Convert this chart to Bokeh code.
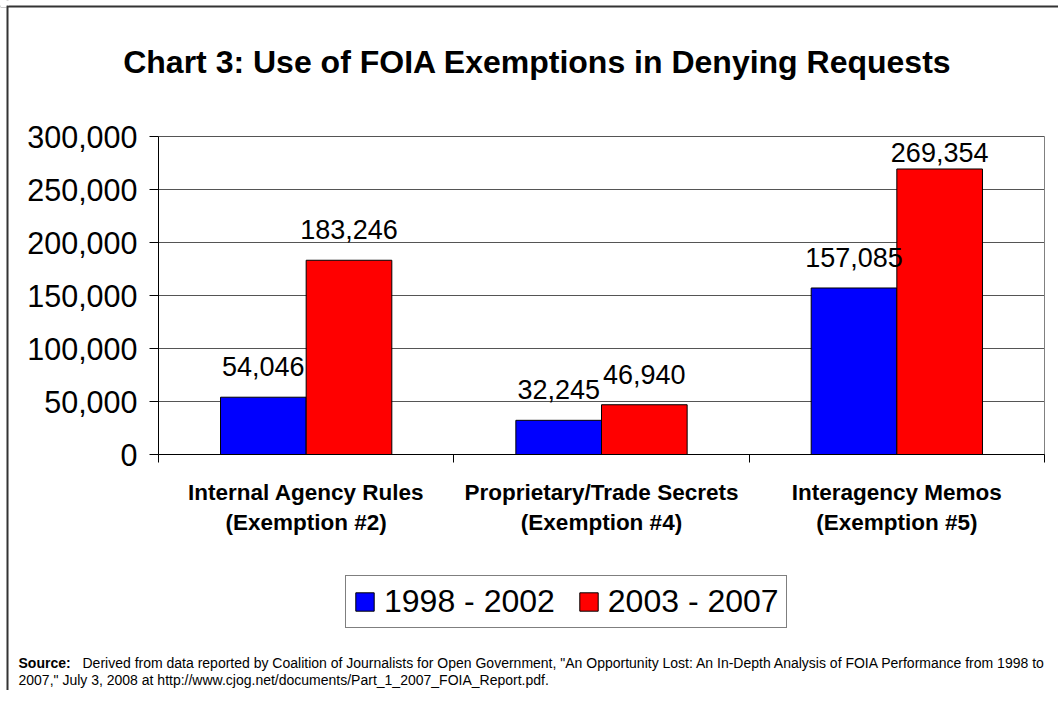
import numpy as np
from bokeh.plotting import figure
from bokeh.models import (Range1d, FixedTicker, NumeralTickFormatter, ColumnDataSource,
                          LabelSet, Label, Legend, LegendItem, LinearAxis, Span)
from bokeh.core.properties import value
from bokeh.embed import file_html
from bokeh.resources import INLINE

# ---------------- data ----------------
categories = ["Internal Agency Rules", "Proprietary/Trade Secrets", "Interagency Memos"]
exemptions = ["(Exemption #2)", "(Exemption #4)", "(Exemption #5)"]
series_names = ["1998 - 2002", "2003 - 2007"]
values_1998_2002 = [54046, 32245, 157085]
values_2003_2007 = [183246, 46940, 269354]
y_ticks = [0, 50000, 100000, 150000, 200000, 250000, 300000]
title_text = "Chart 3: Use of FOIA Exemptions in Denying Requests"
source_label = "Source:"
source_line1 = ('Derived from data reported by Coalition of Journalists for Open Government, '
                '"An Opportunity Lost: An In-Depth Analysis of FOIA Performance from 1998 to')
source_line2 = '2007," July 3, 2008 at http://www.cjog.net/documents/Part_1_2007_FOIA_Report.pdf.'

FONT = "Liberation Sans"
BLUE = "#0000FF"
RED = "#FF0000"

# ---------------- layout (pixels) ----------------
W, H = 1058, 690
PLOT_L, PLOT_R, PLOT_T, PLOT_B = 158, 1044, 136, 454
N = len(categories)
Y_MAX = y_ticks[-1]
XS = (PLOT_R - PLOT_L) / N          # px per category
YS = (PLOT_B - PLOT_T) / Y_MAX      # px per data unit


def xd(px):
    return (px - PLOT_L) / XS


def yd(py):
    return (PLOT_B - py) / YS


p = figure(width=W, height=H, output_backend="svg", toolbar_location=None,
           x_range=Range1d(xd(0), xd(W)), y_range=Range1d(yd(H), yd(0)),
           x_axis_location=None, y_axis_location=None, min_border=0)
p.min_border_left = p.min_border_right = p.min_border_top = p.min_border_bottom = 0
p.background_fill_color = "white"
p.border_fill_color = "white"
p.outline_line_color = None
p.xgrid.visible = False
p.ygrid.visible = False

# outer chart border (only its left and top edges fall inside the window)
p.add_layout(Span(location=xd(7), dimension="height", line_color="#333333", line_width=2,
                  level="underlay"))
p.add_layout(Span(location=yd(6), dimension="width", line_color="#333333", line_width=2,
                  level="underlay"))
# white patches hiding the border lines' overshoot beyond the top-left corner
p.quad(left=[xd(0), xd(0)], right=[xd(6), xd(8.5)], top=[yd(0), yd(0)], bottom=[yd(7), yd(5)],
       fill_color="white", line_color=None)

# horizontal gridlines and plot-area box
p.segment(x0=[0] * len(y_ticks), x1=[N] * len(y_ticks), y0=y_ticks, y1=y_ticks,
          line_color="#555555", line_width=1)
p.segment(x0=[N], x1=[N], y0=[0], y1=[Y_MAX], line_color="#808080", line_width=1)

centers = np.arange(N) + 0.5
off = 0.145
bw = 0.29

src1 = ColumnDataSource(dict(x=centers - off, top=values_1998_2002))
src2 = ColumnDataSource(dict(x=centers + off, top=values_2003_2007))
r1 = p.vbar(x="x", top="top", width=bw, source=src1, fill_color=BLUE, line_color="black", line_width=1)
r2 = p.vbar(x="x", top="top", width=bw, source=src2, fill_color=RED, line_color="black", line_width=1)


# data labels
def label_source(xs, vals):
    vals = np.array(vals, dtype=float)
    ly = np.minimum(vals + 21 / YS, Y_MAX - 25 / YS)
    return ColumnDataSource(dict(x=xs, y=ly, txt=[f"{int(v):,}" for v in vals]))


for xs, vals in ((centers - off, values_1998_2002), (centers + off, values_2003_2007)):
    p.add_layout(LabelSet(x="x", y="y", text="txt", source=label_source(xs, vals),
                          text_align="center", text_baseline="alphabetic",
                          text_font=value(FONT), text_font_size=value("27px"),
                          text_color="black"))

# y axis (fixed at x = 0)
ya = LinearAxis(fixed_location=0, bounds=(0, Y_MAX))
ya.ticker = FixedTicker(ticks=y_ticks)
ya.formatter = NumeralTickFormatter(format="0,0")
ya.major_tick_out = 9
ya.major_tick_in = 0
ya.minor_tick_out = 0
ya.minor_tick_in = 0
ya.axis_line_color = "black"
ya.major_tick_line_color = "black"
ya.major_label_text_font = FONT
ya.major_label_text_font_size = "30.5px"
ya.major_label_text_color = "black"
ya.major_label_standoff = 12
p.add_layout(ya, "left")

# x axis (fixed at y = 0): labels at category centres, ticks at category boundaries
xa = LinearAxis(fixed_location=0, bounds=(0, N))
xa.ticker = FixedTicker(ticks=list(centers), minor_ticks=list(range(N + 1)))
xa.major_label_overrides = {float(c): f"{n}\n{e}" for c, n, e in zip(centers, categories, exemptions)}
xa.major_tick_out = 0
xa.major_tick_in = 0
xa.minor_tick_out = 8
xa.minor_tick_in = 0
xa.minor_tick_line_color = "black"
xa.axis_line_color = "black"
xa.major_label_text_font = FONT
xa.major_label_text_font_style = "bold"
xa.major_label_text_font_size = "22.5px"
xa.major_label_text_color = "black"
xa.major_label_standoff = 17
p.add_layout(xa, "below")

# legend
legend = Legend(items=[LegendItem(label=series_names[0], renderers=[r1]),
                       LegendItem(label=series_names[1], renderers=[r2])],
                orientation="horizontal", location=(345, H - 628),
                label_text_font=FONT, label_text_font_size="32px",
                label_text_color="black",
                glyph_width=23, glyph_height=23, label_standoff=8, spacing=22,
                padding=7, margin=0, border_line_color="black", border_line_width=1,
                background_fill_color="white", background_fill_alpha=1.0)
p.add_layout(legend)

# title
p.add_layout(Label(x=xd(537), y=yd(61), text=title_text,
                   text_align="center", text_baseline="alphabetic", text_font=FONT,
                   text_font_style="bold", text_font_size="32px", text_color="black"))
# source note
p.add_layout(Label(x=xd(18), y=yd(662), text=source_label,
                   text_baseline="alphabetic", text_font=FONT, text_font_style="bold",
                   text_font_size="14px", text_color="black"))
p.add_layout(Label(x=xd(82), y=yd(662), text=source_line1,
                   text_baseline="alphabetic", text_font=FONT,
                   text_font_size="14px", text_color="black"))
p.add_layout(Label(x=xd(18), y=yd(679), text=source_line2,
                   text_baseline="alphabetic", text_font=FONT,
                   text_font_size="14px", text_color="black"))

open("out.html", "w").write(file_html(p, INLINE))
